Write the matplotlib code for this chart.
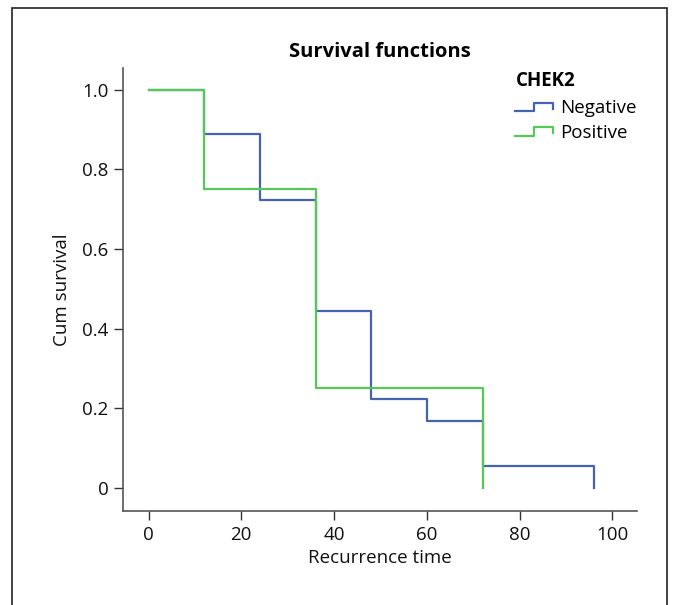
import matplotlib
matplotlib.use("Agg")
import matplotlib.pyplot as plt
from matplotlib.legend_handler import HandlerBase
from matplotlib.lines import Line2D
from matplotlib.patches import Rectangle

plt.rcParams['font.family'] = ['Open Sans', 'DejaVu Sans']

# Data
neg_times = [0, 12, 24, 36, 48, 60, 72, 96]
neg_surv = [1.0, 0.889, 0.722, 0.444, 0.222, 0.167, 0.056, 0.0]
pos_times = [0, 12, 36, 72]
pos_surv = [1.0, 0.75, 0.25, 0.0]
x_ticks = [0, 20, 40, 60, 80, 100]
y_ticks = [0, 0.2, 0.4, 0.6, 0.8, 1.0]
y_ticklabels = ["0", "0.2", "0.4", "0.6", "0.8", "1.0"]
series_names = ["Negative", "Positive"]
colors = ["#4563b3", "#55c955"]

W, H = 678, 605
fig = plt.figure(figsize=(W / 100, H / 100), dpi=100)
ax = fig.add_axes([123 / W, 1 - 511 / H, (637 - 123) / W, (511 - 68) / H])

def step_xy(times, surv):
    xs, ys = [], []
    for i, (t, s) in enumerate(zip(times, surv)):
        if i == 0:
            xs.append(t); ys.append(s)
        else:
            xs.append(t); ys.append(surv[i - 1])
            xs.append(t); ys.append(s)
    return xs, ys

xn, yn = step_xy(neg_times, neg_surv)
xp, yp = step_xy(pos_times, pos_surv)
ln, = ax.plot(xn, yn, color=colors[0], lw=1.6, label=series_names[0])
lp, = ax.plot(xp, yp, color=colors[1], lw=1.6, label=series_names[1])

FS = 13.5
ax.set_xlim(-5.5, 105.3)
ax.set_ylim(-0.058, 1.054)
ax.set_xticks(x_ticks)
ax.set_yticks(y_ticks)
ax.set_yticklabels(y_ticklabels)
ax.tick_params(direction='out', length=6.5, width=1, colors='#333333', labelsize=FS,
               labelcolor='#111111', pad=4)
for s in ['top', 'right']:
    ax.spines[s].set_visible(False)
for s in ['left', 'bottom']:
    ax.spines[s].set_color('#555555')
    ax.spines[s].set_linewidth(1.2)

ax.set_xlabel("Recurrence time", fontsize=FS, color='#111111', labelpad=4)
ax.set_ylabel("Cum survival", fontsize=FS, color='#111111', labelpad=8)
ax.set_title("Survival functions", fontsize=14.5, fontweight='bold', pad=8)


class StepHandler(HandlerBase):
    def create_artists(self, legend, orig_handle, xdescent, ydescent, width, height, fontsize, trans):
        x0 = -xdescent
        y0 = -ydescent
        lo = y0 + height * 0.15
        hi = y0 + height * 0.8
        xs = [x0, x0 + width * 0.5, x0 + width * 0.5, x0 + width, x0 + width]
        ys = [lo, lo, hi, hi, lo + (hi - lo) * 0.3]
        l = Line2D(xs, ys, color=orig_handle.get_color(), lw=orig_handle.get_linewidth(), transform=trans)
        return [l]

leg = ax.legend(handles=[ln, lp], labels=series_names, title="CHEK2",
                handler_map={Line2D: StepHandler()},
                loc='upper left', bbox_to_anchor=((506 - 123) / (637 - 123), 1.015),
                frameon=False, fontsize=FS, handlelength=2.0, handletextpad=0.4,
                labelspacing=0.35, alignment='left', borderaxespad=0.1)
leg.get_title().set_fontweight('bold')
leg.get_title().set_fontsize(FS)
leg._legend_box.sep = 6

# outer frame
fig.patches.append(Rectangle((12 / W, -0.05), (667 - 12) / W, 1 - 8 / H + 0.05,
                             transform=fig.transFigure, fill=False, edgecolor='#222222',
                             lw=1.2))

fig.savefig("out.png", dpi=100)
